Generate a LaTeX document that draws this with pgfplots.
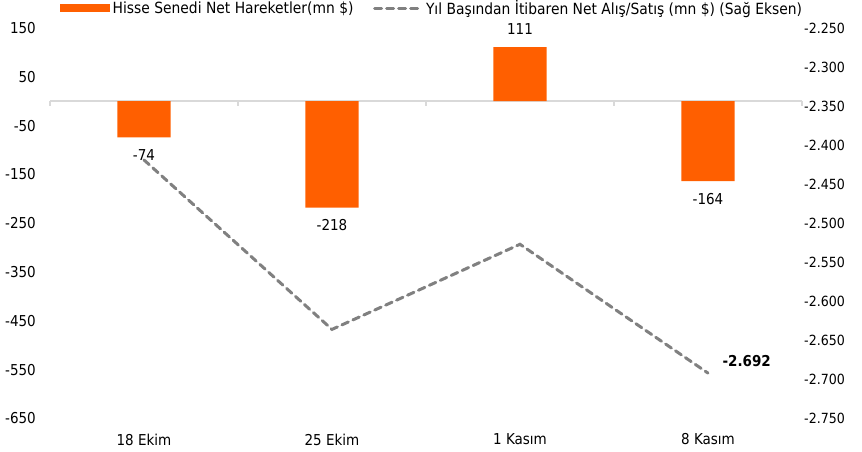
\documentclass[border=0pt]{standalone}
\usepackage{fontspec}
\setmainfont{DejaVu Sans}[FakeStretch=0.9]
\usepackage{pgfplots}
\pgfplotsset{compat=1.18}
\definecolor{barorange}{RGB}{255,95,0}
\definecolor{linegray}{RGB}{128,128,128}
\definecolor{zerogray}{RGB}{217,217,217}
\begin{document}
\begin{tikzpicture}
\path[use as bounding box] (-50bp,-33.6bp) rectangle (812bp,418.4bp);
\pgfplotsset{
  common/.style={at={(0,0)}, anchor=south west, scale only axis,
    width=752bp, height=390.4bp, xmin=-0.5, xmax=3.5,
    axis line style={draw=none}, tick style={draw=none},
    /pgf/number format/assume math mode=true,
    tick label style={font=\fontsize{15bp}{18bp}\selectfont},
    clip=false}
}
\begin{axis}[common,
  ymin=-650, ymax=150, ytick={-650,-550,...,150},
  xtick={0,1,2,3}, xticklabels={18 Ekim,25 Ekim,1 Kasım,8 Kasım},
  xticklabel style={inner sep=0pt, yshift=-11bp},
  yticklabel style={inner sep=0pt, xshift=-14bp},
  ybar, bar width=0.282, bar shift=0pt,
  legend columns=2,
  legend style={at={(axis description cs:0.0133,1.051)}, anchor=west,
    draw=none, fill=none, inner sep=0pt,
    font=\fontsize{15.4bp}{18bp}\selectfont,
    nodes={inner sep=2.5bp},
    /tikz/every even column/.append style={column sep=17bp}},
]
\draw[zerogray, line width=1.5bp] (axis cs:-0.5,0) -- (axis cs:3.5,0);
\pgfplotsinvokeforeach{-0.5,0.5,1.5,2.5,3.5}{
  \draw[zerogray, line width=1.5bp] (axis cs:#1,0) -- (axis cs:#1,-10);
}
\addplot[fill=barorange, draw=none,
  nodes near coords,
  every node near coord/.append style={font=\fontsize{15bp}{18bp}\selectfont, black, inner ysep=12bp, inner xsep=0pt},
  legend image code/.code={\fill[barorange] (0bp,-4.3bp) rectangle (50bp,4.3bp);}]
  coordinates {(0,-74) (1,-218) (2,111) (3,-164)};
\addlegendentry{Hisse Senedi Net Hareketler(mn \$)}
\addlegendimage{legend image code/.code={\draw[linegray, line width=3bp, dash pattern=on 7bp off 5bp, line cap=round] (1.5bp,0bp) -- (49bp,0bp);}}
\addlegendentry{Yıl Başından İtibaren Net Alış/Satış (mn \$) (Sağ Eksen)}
\end{axis}
\begin{axis}[common,
  axis x line=none, axis y line*=right,
  ymin=-2.75, ymax=-2.25,
  ytick={-2.75,-2.7,-2.65,-2.6,-2.55,-2.5,-2.45,-2.4,-2.35,-2.3,-2.25},
  yticklabel style={inner sep=0pt, xshift=2bp, font=\fontsize{14bp}{17bp}\selectfont,
    /pgf/number format/.cd, fixed, fixed zerofill, precision=3, use period},
]
\addplot[linegray, line width=3bp, dash pattern=on 7bp off 5bp, line cap=round]
  coordinates {(0,-2.419) (1,-2.636) (2,-2.527) (3,-2.692)};
\node[anchor=west, font=\fontsize{15bp}{18bp}\selectfont\bfseries, xshift=11bp, yshift=12bp] at (axis cs:3,-2.692) {-2.692};
\end{axis}
\end{tikzpicture}
\end{document}
